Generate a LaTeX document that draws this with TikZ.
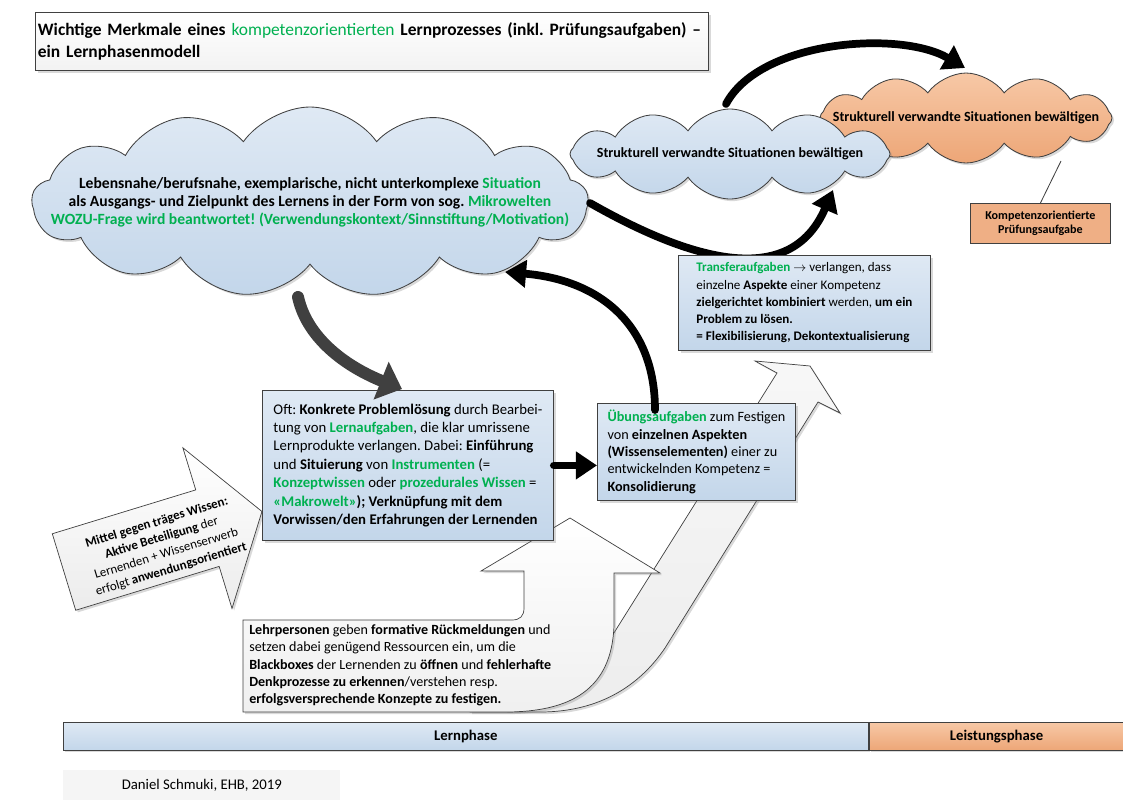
\documentclass[tikz,border=0pt]{standalone}
\usepackage{fontspec}
\setmainfont{Carlito}
\usetikzlibrary{shapes.symbols,shadows,arrows.meta,calc}
\definecolor{grn}{HTML}{00B050}
\definecolor{bluetop}{HTML}{DFE9F4}
\definecolor{bluebot}{HTML}{C3D6EA}
\definecolor{orgtop}{HTML}{F7C8A6}
\definecolor{orgbot}{HTML}{EDA677}
\definecolor{edge}{HTML}{404040}
\newcommand{\gb}[1]{\textcolor{grn}{\textbf{#1}}}
\frenchspacing
\tikzset{softshadow/.style={drop shadow={shadow xshift=1.5pt,shadow yshift=-1.5pt,opacity=0.3}}}
\tikzset{sketchbox/.style={draw=edge, line width=0.6pt, top color=bluetop, bottom color=bluebot, align=left, anchor=north west, inner sep=1.5mm, softshadow}}
\tikzset{situation/.style={cloud, cloud puffs=12, cloud puff arc=110, cloud ignores aspect, inner sep=0pt, draw=edge, line width=0.6pt, top color=bluetop, bottom color=bluebot, softshadow}}
\tikzset{bigarrow/.style={line width=5.5pt, line cap=round, -{Triangle[length=15pt,width=19pt]}}}

\begin{document}
\begin{tikzpicture}[x=0.25mm,y=-0.25mm]
    \useasboundingbox (0,0) rectangle (1123,800);

    % the two white arrows at the bottom
    \draw[draw=edge, line width=0.5pt, top color=gray!6, bottom color=gray!14, softshadow] (470,712) -- (540,712) .. controls (600,712) and (640,685) .. (665,648) -- (818,402) -- (840,413) -- (810,366) -- (755,361) -- (777,373) -- (612,636) .. controls (595,665) and (570,690) .. (520,700) -- (470,700) -- cycle;
    \draw[draw=edge, line width=0.5pt, top color=white, bottom color=gray!12, softshadow] (243,712) -- (243,620) -- (512,620) .. controls (520,620) and (524,616) .. (524,608) -- (524,571) -- (481,571) -- (570,518) -- (660,573) -- (614,573) -- (614,625) .. controls (612,690) and (570,712) .. (505,712) -- cycle;
    \node[align=left, anchor=north west, inner sep=0pt, font=\fontsize{10}{12.4}\selectfont] at (249,624) (lehr){\textbf{Lehrpersonen} geben \textbf{formative Rückmeldungen} und\\ setzen dabei genügend Ressourcen ein, um die\\ \textbf{Blackboxes} der Lernenden zu \textbf{öffnen} und \textbf{fehlerhafte}\\ \textbf{Denkprozesse zu erkennen}/verstehen resp.\\ \textbf{erfolgsversprechende Konzepte zu festigen.}};

    % tilted arrow on the left
    \begin{scope}[shift={(64,572)}, rotate=17]
        \draw[draw=edge, line width=0.5pt, top color=white, bottom color=gray!15, softshadow] (0,-40) -- (150,-40) -- (150,-84) -- (207,0) -- (150,84) -- (150,40) -- (0,40) -- cycle;
    \end{scope}
    \node[rotate=17, align=center, font=\fontsize{9.2}{11.6}\selectfont] at (164,546) (mittel){\textbf{Mittel gegen träges Wissen:}\\ \textbf{Aktive Beteiligung} der\\ Lernenden + Wissenserwerb\\ erfolgt \textbf{anwendungsorientiert}};

    % title
    \node[draw=edge, line width=0.6pt, top color=white, bottom color=gray!10, anchor=north west, minimum width=168.25mm, minimum height=14.5mm, text width=167mm, align=left, inner xsep=0.6mm, softshadow, font=\fontsize{12.4}{15.6}\selectfont] at (35,12) (titel){\textbf{Wichtige Merkmale eines} \textcolor{grn}{kompetenzorientierten} \textbf{Lernprozesses (inkl. Prüfungsaufgaben) –}\\ \textbf{ein Lernphasenmodell}};

    % clouds
    \node[situation, top color=orgtop, bottom color=orgbot, minimum width=73mm, minimum height=22.5mm] at (966,118) (pruefwolke){};
    \node[font=\bfseries\fontsize{10}{11}\selectfont] at (pruefwolke.center) (pruefwolketext){Strukturell verwandte Situationen bewältigen};
    \node[situation, minimum width=80mm, minimum height=22.5mm] at (730,154) (struk){};
    \node[font=\bfseries\fontsize{10}{11}\selectfont] at (struk.center) (struktext){Strukturell verwandte Situationen bewältigen};
    \node[situation, cloud puffs=13, minimum width=139mm, minimum height=47.5mm] at (310,202) (situ){};
    \node[align=center, font=\bfseries\fontsize{11.1}{12.9}\selectfont] at (situ.center) (situtext){Lebensnahe/berufsnahe, exemplarische, nicht unterkomplexe \textcolor{grn}{Situation}\\ als Ausgangs- und Zielpunkt des Lernens in der Form von sog. \textcolor{grn}{Mikrowelten}\\ \textcolor{grn}{WOZU-Frage wird beantwortet! (Verwendungskontext/Sinnstiftung/Motivation)}};

    \node[draw=edge, line width=0.6pt, fill=orgbot!90!white, anchor=north west, minimum width=35mm, minimum height=10mm, align=center, inner sep=0pt, font=\bfseries\fontsize{8.6}{10}\selectfont] at (970,203) (pruef){Kompetenzorientierte\\ Prüfungsaufgabe};
    \draw[edge, line width=0.6pt] (pruef.north) -- ([shift={(95,43)}]pruefwolke.center);

    % black arrows
    \draw[bigarrow] ([shift={(280,1)}]situ.center) .. controls +(100,57) and +(-43,100) .. ([shift={(103,36)}]struk.center);
    \draw[bigarrow] ([shift={(-4,-50)}]struk.center) .. controls +(34,-64) and +(-65,-38) .. ([shift={(-1,-50)}]pruefwolke.center);

    \node[sketchbox, minimum width=63mm, minimum height=23.75mm, font=\fontsize{9.3}{12.3}\selectfont] at (678,255) (transfer){\gb{Transferaufgaben} $\rightarrow$ verlangen, dass\\ einzelne \textbf{Aspekte} einer Kompetenz\\ \textbf{zielgerichtet kombiniert} werden, \textbf{um ein}\\ \textbf{Problem zu lösen.}\\ \textbf{= Flexibilisierung, Dekontextualisierung}};

    \node[sketchbox, minimum width=72.75mm, minimum height=37.5mm, font=\fontsize{10.5}{13.1}\selectfont] at (262,390) (oft){Oft: \textbf{Konkrete Problemlösung} durch Bearbei-\\ tung von \gb{Lernaufgaben}, die klar umrissene\\ Lernprodukte verlangen. Dabei: \textbf{Einführung}\\ und \textbf{Situierung} von \gb{Instrumenten} (=\\ \gb{Konzeptwissen} oder \gb{prozedurales Wissen} =\\ \gb{«Makrowelt»}\textbf{); Verknüpfung mit dem}\\ \textbf{Vorwissen/den Erfahrungen der Lernenden}};

    \node[sketchbox, minimum width=49.5mm, minimum height=24.25mm, font=\fontsize{10.1}{12.4}\selectfont] at (597,403) (ueb){\gb{Übungsaufgaben} zum Festigen\\ von \textbf{einzelnen Aspekten}\\ \textbf{(Wissenselementen)} einer zu\\ entwickelnden Kompetenz =\\ \textbf{Konsolidierung}};

    \draw[bigarrow] ([shift={(58,7)}]ueb.north west) .. controls +(0,-85) and +(95,8) .. ([shift={(195,70)}]situ.center);
    \draw[line width=8.5pt, edge, line cap=round, -{Triangle[length=16pt,width=28pt]}] ([shift={(-12,95)}]situ.center) .. controls +(10,45) and +(-50,-20) .. ([shift={(140,-1)}]oft.north west);
    \draw[bigarrow] (oft.east) -- (oft.east -| ueb.west);

    % phases
    \node[draw=edge, line width=0.5pt, top color=bluetop, bottom color=bluebot, anchor=north west, minimum width=201.25mm, minimum height=7mm, font=\bfseries\fontsize{10.5}{11}\selectfont, softshadow] at (63,722) (lern){Lernphase};
    \node[draw=edge, line width=0.5pt, top color=orgtop, bottom color=orgbot, anchor=north west, minimum width=63.75mm, minimum height=7mm, font=\bfseries\fontsize{10.5}{11}\selectfont, softshadow] at (lern.north east) (leist){Leistungsphase};
    \node[fill=gray!8, anchor=north west, minimum width=69.25mm, minimum height=7.5mm, font=\fontsize{10.5}{11}\selectfont] at (63,770) (autor){Daniel Schmuki, EHB, 2019};
\end{tikzpicture}
\end{document}
